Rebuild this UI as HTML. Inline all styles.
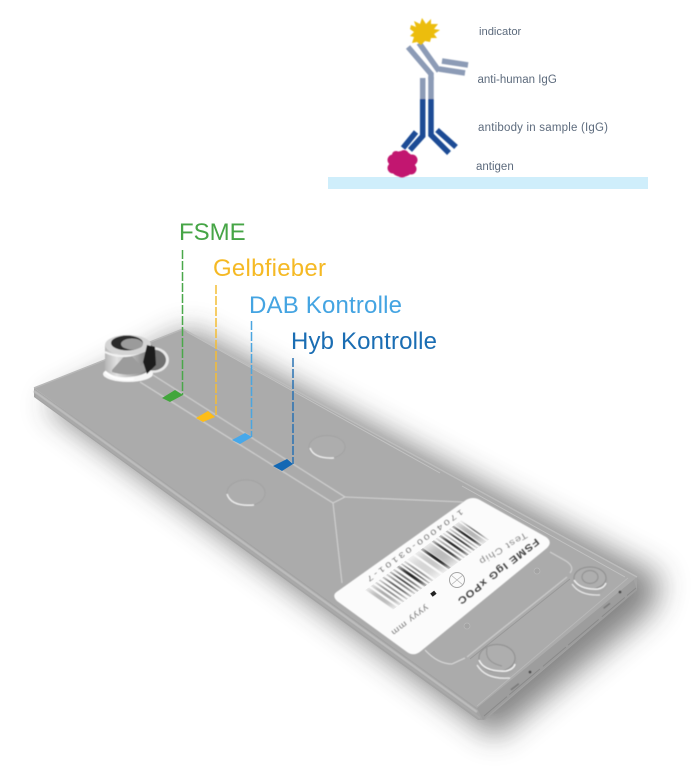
<!DOCTYPE html>
<html><head><meta charset="utf-8"><style>
html,body{margin:0;padding:0;background:#fff}
svg{display:block}
text{font-family:"Liberation Sans",sans-serif}
</style></head><body>
<svg width="700" height="783" viewBox="0 0 700 783" xmlns="http://www.w3.org/2000/svg">
<defs>
<filter id="b20" x="-30%" y="-30%" width="160%" height="160%"><feGaussianBlur stdDeviation="15"/></filter>
<filter id="b05" x="-10%" y="-10%" width="120%" height="120%"><feGaussianBlur stdDeviation=".4"/></filter>
<filter id="b07" x="-20%" y="-20%" width="140%" height="140%"><feGaussianBlur stdDeviation=".6"/></filter>
<linearGradient id="cyl" x1="0" y1="0" x2="1" y2="0">
<stop offset="0" stop-color="#b5b5b5"/><stop offset=".25" stop-color="#e2e2e2"/><stop offset=".6" stop-color="#b2b2b2"/><stop offset=".85" stop-color="#8a8a8a"/><stop offset="1" stop-color="#666"/>
</linearGradient>
</defs>

<!-- top antibody diagram -->
<rect x="328" y="177" width="320" height="12" fill="#cfeefb"/>
<g fill="none" stroke-linecap="butt" filter="url(#b05)">
<g stroke="#8c9bb6" stroke-width="5.500">
<path d="M422.700 78V99M431 77V99"/>
<path d="M408 47L431 74L431 80"/>
<path d="M419 43L439 71"/>
<path d="M439 69L465 73"/>
<path d="M442 61L468 65"/>
</g>
<g stroke="#1c4b95" stroke-width="5.500">
<path d="M422.700 99V136L410 150"/>
<path d="M431 99V135L449 153"/>
<path d="M416 132L403 148"/>
<path d="M437 130L456 147"/>
</g>
</g>
<g fill="#c2186f" filter="url(#b05)">
<circle cx="402" cy="164" r="13"/><circle cx="393" cy="160" r="5.500"/><circle cx="393" cy="168" r="5.500"/><circle cx="402" cy="172" r="5.500"/><circle cx="411" cy="169" r="5.500"/><circle cx="412" cy="160" r="5.500"/><circle cx="404" cy="155" r="5"/><circle cx="396" cy="155" r="4"/>
</g>
<polygon fill="#ecbd07" filter="url(#b05)" points="411,25 416,27 414,21 420,24 422,18 426,24 431,19 431,24 438,24 434,29 440,30 434,34 437,38 431,38 430,42 425,41 421,45 417,42 412,43 414,37 410,36 414,32 410,29"/>
<g font-size="11.500" fill="#5d6b7d">
<text x="479" y="35" font-size="11.200">indicator</text>
<text x="477.500" y="83">anti-human IgG</text>
<text x="478" y="131" textLength="130">antibody in sample (IgG)</text>
<text x="476" y="170">antigen</text>
</g>

<!-- shadow -->
<polygon points="45,405 190,330 662,578 652,610 495,738" fill="#3a3a3a" opacity=".62" filter="url(#b20)"/>

<!-- chip -->
<polygon points="34,388 34,397 478,720 485,720 637,590 637,577 477,708" fill="#a3a3a3"/>
<polygon points="477,708 483,720 637,590 633,578" fill="#9d9d9d"/>
<polygon points="34,388 183,329 637,577 477,708" fill="#ababab"/>
<path d="M34 391L477 712" stroke="#bdbdbd" stroke-width="2.500" fill="none" filter="url(#b05)"/>
<path d="M36 396L480 718" stroke="#a9a9a9" stroke-width="2" fill="none"/>
<path d="M34 388L183 329" stroke="#b8b8b8" stroke-width="1.500" fill="none"/>
<path d="M187 332L440 473M462 486L625 577" stroke="#c2c2c2" stroke-width="1" fill="none"/>
<path d="M183 329L637 577" stroke="#bcbcbc" stroke-width="1.500" fill="none"/>
<path d="M628 578L477 706" stroke="#b8b8b8" stroke-width="1" fill="none"/>
<path d="M484 716L636 588" stroke="#8a8a8a" stroke-width="1" stroke-dasharray="30 3 40 4" fill="none"/>
<g fill="#444" filter="url(#b05)">
<circle cx="620" cy="592" r="1.300"/><circle cx="530" cy="672" r="1.300"/><rect x="603" y="605" width="8" height="1.500" transform="rotate(-38 607 606)" fill="#777"/><rect x="510" y="686" width="10" height="1.500" transform="rotate(-38 515 687)" fill="#777"/>
</g>

<!-- channels and chamber -->
<g fill="none" stroke="#d2d2d2" stroke-width="1.100" filter="url(#b05)">
<path d="M140 382L333 503L342 583"/>
<path d="M153 375L345 497L333 503"/>
<path d="M345 497L463 502"/>
<path d="M550 552L566 561Q575 567 570 573"/>
<path d="M567 577L467 657"/>
<path d="M425 650Q438 664 452 664L465 658" stroke="#dcdcdc"/>
</g>
<path d="M570 579L470 659" stroke="#999" stroke-width="1" fill="none"/>
<circle cx="537" cy="571" r="3" fill="#a4a4a4" stroke="#bbb" stroke-width=".7"/>
<circle cx="467" cy="626" r="3" fill="#a4a4a4" stroke="#bbb" stroke-width=".7"/>

<!-- dimples -->
<g fill="none" filter="url(#b05)">
<ellipse cx="327" cy="447" rx="18" ry="11.500" fill="#adadad" stroke="#a2a2a2" stroke-width="1"/>
<path d="M310 448Q314 459 334 458" stroke="#ececec" stroke-width="1.500"/>
<ellipse cx="246" cy="493" rx="19" ry="13" fill="#adadad" stroke="#a2a2a2" stroke-width="1"/>
<path d="M227 494Q231 507 254 505" stroke="#ececec" stroke-width="1.500"/>
</g>

<!-- inlet port -->
<g filter="url(#b07)">
<ellipse cx="153" cy="360" rx="16" ry="13" fill="#e8e8e8"/>
<ellipse cx="153" cy="360" rx="13" ry="10.500" fill="#6f6f6f"/>
<ellipse cx="128" cy="374" rx="25" ry="8" fill="#f6f6f6"/>
<path d="M105 345V370Q113 378 128 377Q145 376 152 368V345Z" fill="url(#cyl)"/>
<path d="M112 370L128 352L141 366L148 358L148 370Q130 378 112 372Z" fill="#9c9c9c"/>
<path d="M105 352Q125 362 150 348" stroke="#f2f2f2" stroke-width="2" fill="none"/>
<ellipse cx="128" cy="345" rx="23" ry="10" fill="#d4d4d4"/>
<ellipse cx="127" cy="343" rx="16" ry="7.500" fill="#2a2a2a"/>
<ellipse cx="132" cy="344" rx="11" ry="5.500" fill="#9b9b9b"/>
<path d="M147 345L155 347L156 365L147 374L143 362Z" fill="#1e1e1e"/>
<path d="M105 372Q115 381 134 379" stroke="#fff" stroke-width="2" fill="none"/>
</g>

<!-- markers -->
<polygon points="162,398 175,390 183,395 170,402" fill="#42a63c"/>
<polygon points="196,418 208,411 215,417 203,422" fill="#fdbd17"/>
<polygon points="232,440 245,433 252,437 240,444" fill="#47a8ea"/>
<polygon points="273,466 287,459 293,464 282,471" fill="#1368b4"/>

<!-- dashed leaders -->
<g fill="none" stroke-width="1.500" stroke-dasharray="9 2">
<path d="M182.500 250V395" stroke="#4aa84a"/>
<path d="M216 285V417" stroke="#f4bd35"/>
<path d="M251.500 321V437" stroke="#4ba5e0"/>
<path d="M293 358V464" stroke="#2a73b3"/>
</g>

<!-- big labels -->
<g font-size="24">
<text x="179" y="240" fill="#46a546">FSME</text>
<text x="213" y="276" fill="#f5b924" textLength="113">Gelbfieber</text>
<text x="249" y="313" fill="#44a4e2" textLength="153">DAB Kontrolle</text>
<text x="291" y="349" fill="#1a6db3" textLength="146">Hyb Kontrolle</text>
</g>

<!-- sticker -->
<path d="M466 500Q473 496 480 500L546 537Q553 542 547 548L421 651Q414 657 407 652L337 601Q331 595 338 591Z" fill="#fbfbfb" filter="url(#b05)"/>
<g transform="matrix(-.96 .7 11.500 8 475 530)" filter="url(#b05)">
<rect x="0" y="-.7" width="1.200" height="1.500" fill="#666"/>
<rect x="2.500" y="-1" width="4" height="2" fill="#b5b5b5"/>
<rect x="7.500" y="-1" width="2" height="2" fill="#222"/>
<rect x="11.500" y="-1" width="1.200" height="2" fill="#888"/>
<rect x="14.500" y="-1" width="1.500" height="2" fill="#333"/>
<rect x="18" y="-1" width="1.200" height="2" fill="#999"/>
<rect x="21" y="-1" width="2" height="2" fill="#222"/>
<rect x="25" y="-1" width="1.500" height="2" fill="#999"/>
<rect x="28.500" y="-1" width="2" height="2" fill="#333"/>
<rect x="32" y="-1" width="7" height="2" fill="#bcbcbc"/>
<rect x="39.500" y="-1" width="2.500" height="2" fill="#222"/>
<rect x="43.500" y="-1" width="4.500" height="2" fill="#c8c8c8"/>
<rect x="50" y="-1" width="6" height="2" fill="#d6d6d6"/>
<rect x="58" y="-1" width="1.500" height="2" fill="#888"/>
<rect x="61.500" y="-1" width="1.200" height="2" fill="#555"/>
<rect x="64.500" y="-1" width="2.500" height="2" fill="#222"/>
<rect x="69.500" y="-1" width="1.500" height="2" fill="#666"/>
<rect x="73" y="-1" width="1.500" height="2" fill="#444"/>
<rect x="76.500" y="-1" width="1.500" height="2" fill="#777"/>
<rect x="80.500" y="-1" width="1.500" height="2" fill="#555"/>
<rect x="84.500" y="-1" width="1.200" height="2" fill="#777"/>
<rect x="88" y="-1" width="1.500" height="2" fill="#888"/>
<rect x="91.500" y="-1" width="2.500" height="2" fill="#aaa"/>
<rect x="96" y="-1" width="3.500" height="2" fill="#bbb"/>
</g>
<g filter="url(#b05)">
<text transform="translate(461 509) rotate(144) scale(1 .7)" font-size="10.500" fill="#777" textLength="117">1704000-03101-7</text>
<text transform="translate(525 532) rotate(149) scale(1 .8)" font-size="11" fill="#8a8a8a" textLength="54">Test Chip</text>
<text transform="translate(536 538) rotate(142) scale(1 .85)" font-size="11.500" font-weight="bold" fill="#444" textLength="100">FSME IgG xPOC</text>
<text transform="translate(426 605) rotate(143) scale(1 .8)" font-size="10" fill="#777" textLength="44">yyyy mm</text>
</g>
<rect x="431" y="592" width="5" height="4" fill="#222" transform="rotate(-38 433 594)"/>
<circle cx="457" cy="580" r="7.500" fill="none" stroke="#a5a5a5" stroke-width="1"/>
<path d="M451 575L463 585M463 575L451 585" stroke="#b5b5b5" stroke-width=".8"/>

<!-- screws -->
<g filter="url(#b05)" fill="none">
<ellipse cx="590" cy="582" rx="18" ry="14" fill="#a8a8a8"/>
<ellipse cx="590" cy="578" rx="16" ry="11" fill="#aeaeae" stroke="#8c8c8c" stroke-width="1"/>
<ellipse cx="590" cy="577" rx="8" ry="6.500" stroke="#939393" stroke-width="1.200"/>
<path d="M574 580Q580 590 598 589Q604 588 606 583" stroke="#f0f0f0" stroke-width="1.500"/>
<path d="M572 584Q580 596 600 595" stroke="#e8e8e8" stroke-width="1.200"/>
<ellipse cx="497" cy="662" rx="20" ry="17" fill="#a8a8a8"/>
<ellipse cx="497" cy="658" rx="18" ry="13.500" fill="#aeaeae" stroke="#8e8e8e" stroke-width="1"/>
<path d="M487 648Q484 662 502 666" stroke="#929292" stroke-width="1"/>
<path d="M479 660Q484 672 506 671Q514 669 515 664" stroke="#f4f4f4" stroke-width="1.500"/>
<path d="M477 665Q486 680 510 678" stroke="#ececec" stroke-width="1.300"/>
</g>
</svg>
</body></html>
